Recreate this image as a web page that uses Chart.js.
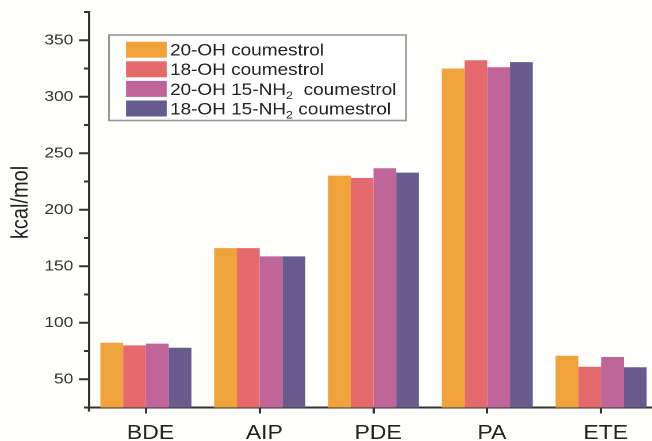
<!DOCTYPE html>
<html>
<head>
<meta charset="utf-8">
<script src="https://cdn.jsdelivr.net/npm/chart.js@4/dist/chart.umd.min.js"></script>
<style>
  html, body { margin: 0; padding: 0; background: #fefefc; overflow: hidden; width: 652px; height: 441px; }
  #wrap { position: absolute; left: 0; top: 0; transform: scaleX(1.15); transform-origin: 0 0; }
  canvas { display: block; }
</style>
</head>
<body>
<div id="wrap"><canvas id="c" width="580" height="441"></canvas></div>
<script>
// Energetic descriptors of the coumestrol derivatives (kcal/mol)
const categories = ['BDE', 'AIP', 'PDE', 'PA', 'ETE'];
const seriesNames = ['20-OH coumestrol', '18-OH coumestrol', '20-OH 15-NH\u2082 coumestrol', '18-OH 15-NH\u2082 coumestrol'];
const oh20 = [82.3, 166.0, 230.2, 325.0, 70.8];
const oh18 = [80.0, 166.0, 228.1, 332.3, 61.1];
const oh20nh2 = [81.5, 158.7, 236.7, 326.1, 69.7];
const oh18nh2 = [77.9, 158.7, 232.9, 330.6, 60.6];
const yMajorTicks = [50, 100, 150, 200, 250, 300, 350];
const yMinorTicks = [25, 75, 125, 175, 225, 275, 325, 375];
const yTitle = 'kcal/mol';
// legend text split into [text, subscript, text]
const legendParts = [
  ['20-OH coumestrol'],
  ['18-OH coumestrol'],
  ['20-OH 15-NH', '2', '  coumestrol'],
  ['18-OH 15-NH', '2', ' coumestrol']
];
const colors = ['#f0a33a', '#e56a6e', '#bf659a', '#685b8e'];

const SX = 1.15;               // horizontal stretch of the page
const W = 580, H = 441;
const AREA_LEFT = 89 / SX, AREA_RIGHT = 658 / SX, AREA_TOP = 12, AREA_BOTTOM = 407.5;
const FONT = '"Liberation Sans", Arial, Helvetica, sans-serif';

const decor = {
  id: 'decor',
  afterDraw(chart) {
    const ctx = chart.ctx;
    const ys = chart.scales.y;
    const left = chart.chartArea.left;
    const bottom = chart.chartArea.bottom;
    ctx.save();
    ctx.strokeStyle = '#333';
    ctx.lineWidth = 2;
    ctx.beginPath();
    yMajorTicks.forEach(v => {
      const p = ys.getPixelForValue(v);
      ctx.moveTo(left - 10 / SX, p); ctx.lineTo(left, p);
    });
    yMinorTicks.forEach(v => {
      const p = ys.getPixelForValue(v);
      ctx.moveTo(left - 5 / SX, p); ctx.lineTo(left, p);
    });
    ctx.moveTo(left, bottom); ctx.lineTo(left, bottom + 4);
    ctx.stroke();

    // axis title
    ctx.save();
    ctx.translate(27.5 / SX, 202.5);
    ctx.rotate(-Math.PI / 2);
    ctx.fillStyle = '#222';
    ctx.font = '20px ' + FONT;
    ctx.textAlign = 'center';
    ctx.textBaseline = 'alphabetic';
    ctx.fillText(yTitle, 0, 0);
    ctx.restore();

    // legend box
    const bx = 109 / SX, by = 35, bw = (406 - 109) / SX, bh = 85.5;
    ctx.fillStyle = '#ffffff';
    ctx.fillRect(bx, by, bw, bh);
    ctx.strokeStyle = '#9a9894';
    ctx.lineWidth = 1.6;
    ctx.strokeRect(bx, by, bw, bh);
    const sx = 126 / SX, sw = 40.7 / SX, sh = 16, tx = 170 / SX;
    chart.data.datasets.forEach((ds, i) => {
      const top = 41.7 + i * 19.6;
      ctx.fillStyle = ds.backgroundColor;
      ctx.fillRect(sx, top, sw, sh);
      const base = top + sh / 2 + 5.9;
      let x = tx;
      ctx.fillStyle = '#222';
      ctx.textBaseline = 'alphabetic';
      ctx.textAlign = 'left';
      legendParts[i].forEach((part, k) => {
        if (k === 1) {
          ctx.font = '11px ' + FONT;
          ctx.fillText(part, x, base + 4);
        } else {
          ctx.font = '16.5px ' + FONT;
          ctx.fillText(part, x, base);
        }
        x += ctx.measureText(part).width;
      });
    });
    ctx.restore();
  }
};

new Chart(document.getElementById('c'), {
  type: 'bar',
  data: {
    labels: categories,
    datasets: [oh20, oh18, oh20nh2, oh18nh2].map((d, i) => ({
      label: seriesNames[i],
      data: d,
      backgroundColor: colors[i],
      borderWidth: 0,
      categoryPercentage: 0.8,
      barPercentage: 1.0
    }))
  },
  options: {
    responsive: false,
    devicePixelRatio: 2,
    animation: false,
    layout: { padding: { left: 0, right: W - AREA_RIGHT, top: AREA_TOP, bottom: 0 } },
    plugins: { legend: { display: false }, tooltip: { enabled: false } },
    scales: {
      x: {
        offset: true,
        grid: { offset: false, drawOnChartArea: false, drawTicks: true, tickLength: 6, tickColor: '#333', tickWidth: 2 },
        border: { display: true, color: '#333', width: 2 },
        ticks: { color: '#222', font: { family: FONT, size: 20 }, padding: 8, labelOffset: 4 },
        afterFit(scale) {
          scale.height = H - AREA_BOTTOM;
          scale.paddingLeft = 0; scale.paddingRight = 0;
        }
      },
      y: {
        min: 25,
        max: 375,
        grid: { drawOnChartArea: false, drawTicks: false },
        border: { display: true, color: '#333', width: 2 },
        ticks: {
          stepSize: 25,
          color: '#333',
          font: { family: FONT, size: 15 },
          padding: 13.7,
          callback: v => (yMajorTicks.includes(v) ? String(v) : '')
        },
        afterFit(scale) {
          scale.width = AREA_LEFT;
          scale.paddingTop = 0; scale.paddingBottom = 0;
        }
      }
    }
  },
  plugins: [decor]
});
</script>
</body>
</html>
